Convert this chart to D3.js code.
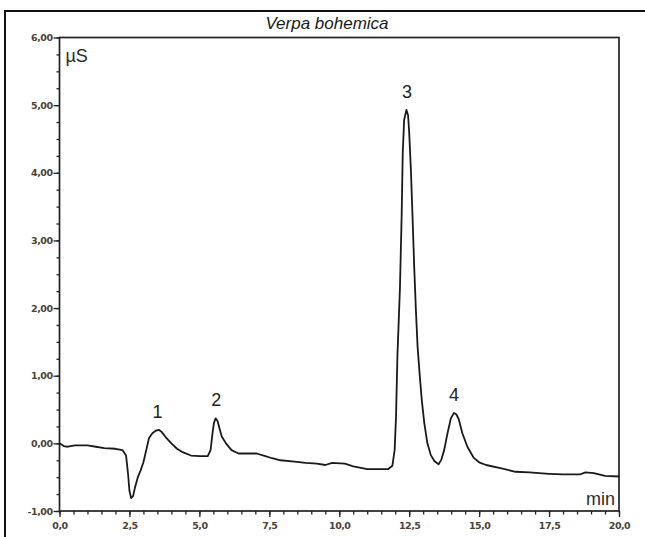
<!DOCTYPE html>
<html>
<head>
<meta charset="utf-8">
<script src="https://cdn.jsdelivr.net/npm/d3@7"></script>
<style>
  body { margin: 0; background: #fff; }
  svg { display: block; }
</style>
</head>
<body>
<div id="chart"></div>
<script>
// Chromatogram of Verpa bohemica, signal in µS against time in min

// retention time (min) and conductivity signal (µS)
var times = [0.00, 0.15, 0.30, 0.55, 1.00, 1.30, 1.60, 2.00, 2.25, 2.38, 2.45, 2.50, 2.56, 2.63, 2.70,
  2.80, 2.90, 3.00, 3.10, 3.20, 3.32, 3.45, 3.55, 3.65, 3.80, 4.00, 4.20, 4.40, 4.70, 5.00, 5.30,
  5.40, 5.47, 5.52, 5.58, 5.65, 5.72, 5.80, 5.95, 6.15, 6.40, 6.70, 7.05, 7.30, 7.60, 7.90, 8.40,
  8.80, 9.20, 9.50, 9.75, 10.20, 10.50, 11.00, 11.75, 11.90, 11.98, 12.03, 12.08, 12.17, 12.23,
  12.27, 12.32, 12.40, 12.46, 12.50, 12.56, 12.62, 12.68, 12.74, 12.80, 12.88, 12.95, 13.04, 13.15,
  13.27, 13.40, 13.55, 13.65, 13.75, 13.87, 13.99, 14.10, 14.18, 14.27, 14.40, 14.58, 14.80, 15.00,
  15.25, 15.80, 16.30, 16.80, 17.50, 18.00, 18.60, 18.80, 19.10, 19.50, 20.00]
var signal = [0.00, -0.04, -0.05, -0.03, -0.03, -0.05, -0.07, -0.08, -0.10, -0.18, -0.45, -0.70, -0.81, -0.78, -0.65,
  -0.50, -0.40, -0.28, -0.10, 0.08, 0.15, 0.19, 0.20, 0.17, 0.09, 0.00, -0.08, -0.13, -0.18, -0.19, -0.19,
  -0.10, 0.15, 0.30, 0.37, 0.33, 0.22, 0.10, 0.00, -0.10, -0.15, -0.15, -0.15, -0.18, -0.22, -0.25, -0.27,
  -0.29, -0.30, -0.32, -0.29, -0.30, -0.34, -0.38, -0.38, -0.33, -0.10, 0.40, 1.30, 2.30, 3.35,
  4.30, 4.78, 4.93, 4.85, 4.60, 4.05, 3.35, 2.60, 1.97, 1.43, 0.99, 0.64, 0.30, 0.00,
  -0.17, -0.26, -0.31, -0.24, -0.10, 0.15, 0.37, 0.45, 0.43, 0.36, 0.15, -0.05, -0.21, -0.28,
  -0.32, -0.37, -0.42, -0.43, -0.45, -0.46, -0.46, -0.43, -0.44, -0.48, -0.49]

// peak numbers and where they sit (time, signal at the apex)
var peakLabels = ["1", "2", "3", "4"]
var peakTimes = [3.50, 5.60, 12.42, 14.10]
var peakValues = [0.20, 0.37, 4.93, 0.45]

var xTicks = [0, 2.5, 5, 7.5, 10, 12.5, 15, 17.5, 20]
var yTicks = [-1, 0, 1, 2, 3, 4, 5, 6]

var width = 645
var height = 537
var margin = { top: 37.5, right: 26, bottom: 26, left: 59.5 }

var svg = d3.select("#chart")
  .append("svg")
  .attr("width", width)
  .attr("height", height)

// outer frame (right and bottom edges lie outside the picture)
svg.append("rect")
  .attr("x", 5)
  .attr("y", 11)
  .attr("width", width + 10)
  .attr("height", height + 10)
  .attr("fill", "none")
  .attr("stroke", "#111")
  .attr("stroke-width", 2)

var x = d3.scaleLinear()
  .domain([0, 20])
  .range([margin.left, width - margin.right])

var y = d3.scaleLinear()
  .domain([-1, 6])
  .range([height - margin.bottom, margin.top])

var comma = function(n, digits) { return n.toFixed(digits).replace(".", ",") }

// minor ticks first, then major ticks with labels
svg.append("g")
  .attr("transform", "translate(0," + y(-1) + ")")
  .call(d3.axisBottom(x).tickValues(d3.range(0, 20.01, 0.5)).tickSize(3.5).tickFormat(""))
  .call(function(g) { g.select(".domain").remove() })

svg.append("g")
  .attr("transform", "translate(" + x(0) + ",0)")
  .call(d3.axisLeft(y).tickValues(d3.range(-1, 6.01, 0.25)).tickSize(3).tickFormat(""))
  .call(function(g) { g.select(".domain").remove() })

var xAxis = svg.append("g")
  .attr("class", "x-axis")
  .attr("transform", "translate(0," + y(-1) + ")")
  .call(d3.axisBottom(x).tickValues(xTicks).tickSize(6).tickPadding(5)
    .tickFormat(function(d) { return comma(d, 1) }))

var yAxis = svg.append("g")
  .attr("class", "y-axis")
  .attr("transform", "translate(" + x(0) + ",0)")
  .call(d3.axisLeft(y).tickValues(yTicks).tickSize(6).tickPadding(1)
    .tickFormat(function(d) { return comma(d, 2) }))

svg.selectAll(".tick line").attr("stroke", "#222").attr("stroke-width", 1.3)
svg.selectAll(".domain").remove()
svg.selectAll(".tick text")
  .attr("font-family", "DejaVu Sans")
  .attr("font-weight", "bold")
  .attr("font-size", 9.5)
  .attr("fill", "#4a4236")
  .attr("letter-spacing", -0.5)

// plot box
svg.append("rect")
  .attr("x", x(0))
  .attr("y", y(6))
  .attr("width", x(20) - x(0))
  .attr("height", y(-1) - y(6))
  .attr("fill", "none")
  .attr("stroke", "#222")
  .attr("stroke-width", 1.7)

// trace
var line = d3.line()
  .x(function(d, i) { return x(times[i]) })
  .y(function(d) { return y(d) })

svg.append("path")
  .datum(signal)
  .attr("d", line)
  .attr("fill", "none")
  .attr("stroke", "#1a1a1a")
  .attr("stroke-width", 1.8)
  .attr("stroke-linejoin", "round")

// peak numbers
svg.selectAll(".peak")
  .data(peakLabels)
  .enter().append("text")
  .attr("class", "peak")
  .attr("x", function(d, i) { return x(peakTimes[i]) })
  .attr("y", function(d, i) { return y(peakValues[i]) - 12 })
  .attr("text-anchor", "middle")
  .attr("font-family", "Liberation Sans, Arial, sans-serif")
  .attr("font-size", 18)
  .attr("fill", "#222")
  .text(function(d) { return d })

// title and unit labels
svg.append("text")
  .attr("x", 327)
  .attr("y", 29)
  .attr("text-anchor", "middle")
  .attr("font-family", "Liberation Sans, Arial, sans-serif")
  .attr("font-style", "italic")
  .attr("font-size", 17)
  .attr("fill", "#1a1a1a")
  .text("Verpa bohemica")

svg.append("text")
  .attr("x", x(0) + 6)
  .attr("y", 62)
  .attr("font-family", "Liberation Sans, Arial, sans-serif")
  .attr("font-size", 18)
  .attr("fill", "#2b2b2b")
  .text("µS")

svg.append("text")
  .attr("x", x(20) - 4)
  .attr("y", 505)
  .attr("text-anchor", "end")
  .attr("font-family", "Liberation Sans, Arial, sans-serif")
  .attr("font-size", 18)
  .attr("fill", "#2b2b2b")
  .text("min")
</script>
</body>
</html>
